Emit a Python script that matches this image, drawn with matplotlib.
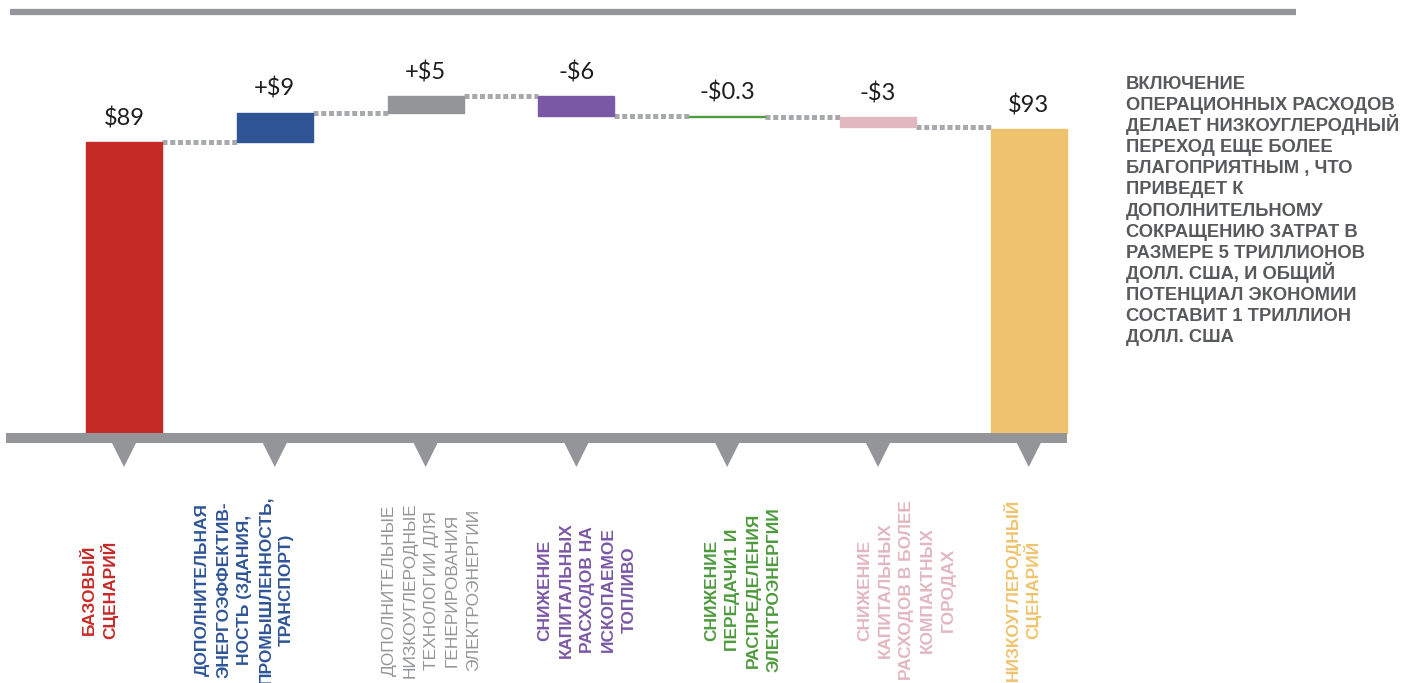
import matplotlib
matplotlib.use('Agg')
import matplotlib.pyplot as plt
from matplotlib.patches import Rectangle, Polygon

# waterfall data (trillion USD)
base_value = 89
step_values = [9, 5, -6, -0.3, -3]
final_value = 93

categories = [
	"БАЗОВЫЙ\nСЦЕНАРИЙ",
	"ДОПОЛНИТЕЛЬНАЯ\nЭНЕРГОЭФФЕКТИВ-\nНОСТЬ (ЗДАНИЯ,\nПРОМЫШЛЕННОСТЬ,\nТРАНСПОРТ)",
	"ДОПОЛНИТЕЛЬНЫЕ\nНИЗКОУГЛЕРОДНЫЕ\nТЕХНОЛОГИИ ДЛЯ\nГЕНЕРИРОВАНИЯ\nЭЛЕКТРОЭНЕРГИИ",
	"СНИЖЕНИЕ\nКАПИТАЛЬНЫХ\nРАСХОДОВ НА\nИСКОПАЕМОЕ\nТОПЛИВО",
	"СНИЖЕНИЕ\nПЕРЕДАЧИ1 И\nРАСПРЕДЕЛЕНИЯ\nЭЛЕКТРОЭНЕРГИИ",
	"СНИЖЕНИЕ\nКАПИТАЛЬНЫХ\nРАСХОДОВ В БОЛЕЕ\nКОМПАКТНЫХ\nГОРОДАХ",
	"НИЗКОУГЛЕРОДНЫЙ\nСЦЕНАРИЙ",
]

colors = ['#C62A27', '#2F5597', '#939598', '#7B58A6', '#4E9A3E', '#E2B7BF', '#EFC36E']
label_weights = ['bold', 'bold', 'normal', 'bold', 'bold', 'bold', 'bold']
label_shift = [-26, -32, 4, 9, 14, 27, -7]  # px nudges of the rotated labels

note = ("ВКЛЮЧЕНИЕ\nОПЕРАЦИОННЫХ РАСХОДОВ\nДЕЛАЕТ НИЗКОУГЛЕРОДНЫЙ\nПЕРЕХОД ЕЩЕ БОЛЕЕ\n"
	"БЛАГОПРИЯТНЫМ , ЧТО\nПРИВЕДЕТ К\nДОПОЛНИТЕЛЬНОМУ\nСОКРАЩЕНИЮ ЗАТРАТ В\n"
	"РАЗМЕРЕ 5 ТРИЛЛИОНОВ\nДОЛЛ. США, И ОБЩИЙ\nПОТЕНЦИАЛ ЭКОНОМИИ\nСОСТАВИТ 1 ТРИЛЛИОН\nДОЛЛ. США")

# build bottoms / heights / levels for the waterfall
bottoms = [0]
heights = [base_value]
levels = [base_value]
value_labels = ['$%g' % base_value]
level = base_value
for v in step_values:
	bottoms.append(level if v > 0 else level + v)
	heights.append(abs(v))
	level += v
	levels.append(level)
	value_labels.append(('+$%g' if v > 0 else '-$%g') % abs(v))
bottoms.append(0)
heights.append(final_value)
value_labels.append('$%g' % final_value)

W, H = 1406, 683
px_x = 150.8  # pixels per category
px_y = 3.27   # pixels per value unit
x0_px, base_px = 124, 433

fig = plt.figure(figsize=(W / 100, H / 100), dpi=100)
ax = fig.add_axes([0, 0, 1, 1])
ax.set_xlim(-x0_px / px_x, (W - x0_px) / px_x)
ax.set_ylim(-(H - base_px) / px_y, base_px / px_y)
ax.axis('off')

bw = 76 / px_x
n = len(heights)
xs = list(range(n))

ax.bar(xs, heights, bottom=bottoms, width=bw, color=colors, edgecolor=colors, linewidth=1, zorder=3)

# dotted connectors between bars
for i in range(n - 1):
	ax.plot([i + bw / 2, i + 1 - bw / 2], [levels[i], levels[i]], color='#A7A9AC', lw=3.6,
		linestyle=(0, (1, 0.55)), dash_capstyle='butt', zorder=2)

# value labels
for i in range(n):
	top = bottoms[i] + heights[i]
	ax.annotate(value_labels[i], (xs[i], top), xytext=(0, 12), textcoords='offset points',
		ha='center', va='baseline', fontsize=17, family='Lato', color='#1E1C1D', zorder=4)

# base band with pointers
band_h = 10 / px_y
ax.add_patch(Rectangle((-118 / px_x, -band_h), (1067 - 6) / px_x, band_h, color='#939598', lw=0, zorder=3))
tri_w = 12 / px_x
tri_tip = -34 / px_y
for x in xs:
	ax.add_patch(Polygon([(x - tri_w, -band_h), (x + tri_w, -band_h), (x, tri_tip)],
		closed=True, color='#939598', lw=0, zorder=3))

# top rule
ax.plot([-114 / px_x, (1296 - x0_px) / px_x], [(base_px - 12) / px_y] * 2, color='#939598', lw=4.5,
	solid_capstyle='butt')

# category labels under the axis, one rotated line at a time for even spacing
line_gap = 21
half_cap = 6.3
label_y = -(590 - base_px) / px_y
for i, lab in enumerate(categories):
	lines = lab.split('\n')
	for j, line in enumerate(lines):
		cx = label_shift[i] + (j - (len(lines) - 1) / 2) * line_gap + half_cap
		ax.text(xs[i] + cx / px_x, label_y, line, rotation=90, rotation_mode='anchor',
			ha='center', va='baseline', fontsize=12.5, family='Liberation Sans',
			fontweight=label_weights[i], color=colors[i])

# side note
for j, line in enumerate(note.split('\n')):
	fig.text(1126 / W, 1 - (89 + j * 21.1) / H, line, ha='left', va='baseline', fontsize=13.2,
		family='Liberation Sans', fontweight='bold', color='#58595B')

fig.savefig('out.png', dpi=100)
